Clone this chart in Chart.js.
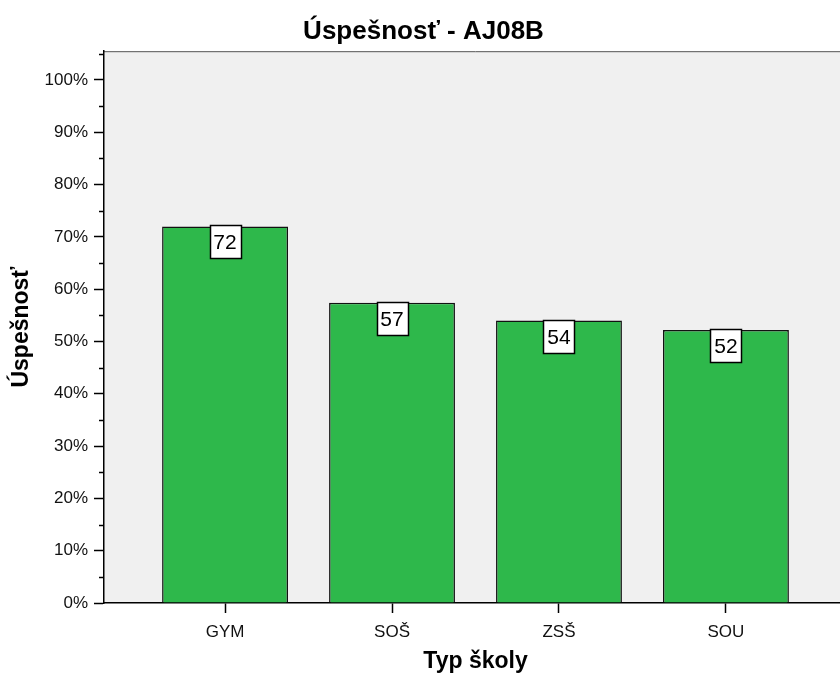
<!DOCTYPE html>
<html>
<head>
<meta charset="utf-8">
<script src="https://cdn.jsdelivr.net/npm/chart.js@4/dist/chart.umd.min.js"></script>
<style>
  html, body { margin: 0; padding: 0; background: #fff; overflow: hidden; }
  #wrap { width: 840px; height: 675px; overflow: hidden; }
</style>
</head>
<body>
<div id="wrap"><canvas id="chart" width="860" height="675"></canvas></div>
<script>
const categories = ['GYM', 'SOŠ', 'ZSŠ', 'SOU'];
const successRate = [72.0, 57.4, 54.0, 52.2];
const yTicks = [0, 10, 20, 30, 40, 50, 60, 70, 80, 90, 100];
const yMinorTicks = [5, 15, 25, 35, 45, 55, 65, 75, 85, 95, 105];

const FONT = "'Liberation Sans', Arial, sans-serif";
const BAR_GREEN = '#2eb84b';

// pozadie plochy grafu + horna hrana
const plotBackground = {
  id: 'plotBackground',
  beforeDraw(chart) {
    const { ctx, chartArea: a } = chart;
    ctx.save();
    ctx.fillStyle = '#f0f0f0';
    ctx.fillRect(a.left, a.top, a.right - a.left, a.bottom - a.top);
    ctx.strokeStyle = '#555';
    ctx.lineWidth = 1;
    ctx.beginPath();
    ctx.moveTo(a.left, a.top + 0.5);
    ctx.lineTo(a.right, a.top + 0.5);
    ctx.stroke();
    ctx.restore();
  }
};

// vedlajsie ciarky na osi y
const minorTicks = {
  id: 'minorTicks',
  afterDraw(chart) {
    const { ctx } = chart;
    const y = chart.scales.y;
    ctx.save();
    ctx.strokeStyle = '#000';
    ctx.lineWidth = 1.5;
    yMinorTicks.forEach(v => {
      const py = Math.round(y.getPixelForValue(v)) + 0.5;
      ctx.beginPath();
      ctx.moveTo(y.right - 5, py);
      ctx.lineTo(y.right, py);
      ctx.stroke();
    });
    ctx.restore();
  }
};

// biele stitky s hodnotou na vrchu stlpcov
const valueBoxes = {
  id: 'valueBoxes',
  afterDatasetsDraw(chart) {
    const { ctx } = chart;
    const meta = chart.getDatasetMeta(0);
    ctx.save();
    ctx.font = `21px ${FONT}`;
    ctx.textAlign = 'center';
    ctx.textBaseline = 'middle';
    meta.data.forEach((bar, i) => {
      const w = 31, h = 33;
      const x = Math.round(bar.x - w / 2) + 0.5;
      const top = Math.round(bar.y) - 0.5;
      ctx.fillStyle = '#fff';
      ctx.fillRect(x, top, w, h);
      ctx.strokeStyle = '#000';
      ctx.lineWidth = 1.5;
      ctx.strokeRect(x, top, w, h);
      ctx.fillStyle = '#000';
      ctx.fillText(String(Math.round(successRate[i])), bar.x, top + h / 2 + 1);
    });
    ctx.restore();
  }
};

new Chart(document.getElementById('chart'), {
  type: 'bar',
  data: {
    datasets: [{
      data: successRate.map((v, i) => ({ x: i, y: v })),
      backgroundColor: BAR_GREEN,
      borderColor: '#111',
      borderWidth: 1.5,
      barPercentage: 0.754,
      categoryPercentage: 1
    }]
  },
  options: {
    responsive: false,
    animation: false,
    layout: { padding: { left: 0, right: 13, top: 0, bottom: 0 } },
    plugins: {
      legend: { display: false },
      tooltip: { enabled: false },
      title: {
        display: true,
        text: 'Úspešnosť - AJ08B',
        color: '#000',
        font: { family: FONT, size: 26, weight: 'bold' },
        padding: { top: 16, bottom: 4 }
      }
    },
    scales: {
      x: {
        type: 'linear',
        min: -0.725,
        max: 3.725,
        offset: false,
        afterFit: s => { s.height = 72; },
        afterBuildTicks: s => { s.ticks = categories.map((c, i) => ({ value: i })); },
        ticks: {
          callback: v => categories[v],
          color: '#111',
          font: { family: FONT, size: 17 },
          padding: 9,
          maxRotation: 0,
          autoSkip: false
        },
        grid: { offset: false, drawOnChartArea: false, tickLength: 10, tickColor: '#000', tickWidth: 1.5 },
        border: { color: '#000', width: 1.5 },
        title: {
          display: true,
          text: 'Typ školy',
          color: '#000',
          font: { family: FONT, size: 23, weight: 'bold' },
          padding: { top: 0, bottom: 0 }
        }
      },
      y: {
        min: 0,
        max: 105.5,
        afterFit: s => { s.width = 104; },
        afterBuildTicks: s => { s.ticks = yTicks.map(v => ({ value: v })); },
        ticks: {
          callback: v => v + '%',
          color: '#111',
          font: { family: FONT, size: 17 },
          padding: 6
        },
        grid: { drawOnChartArea: false, tickLength: 10, tickColor: '#000', tickWidth: 1.5 },
        border: { color: '#000', width: 1.5 },
        title: {
          display: true,
          text: 'Úspešnosť',
          color: '#000',
          font: { family: FONT, size: 23, weight: 'bold' },
          padding: { top: 8, bottom: 0 }
        }
      }
    }
  },
  plugins: [plotBackground, minorTicks, valueBoxes]
});
</script>
</body>
</html>
